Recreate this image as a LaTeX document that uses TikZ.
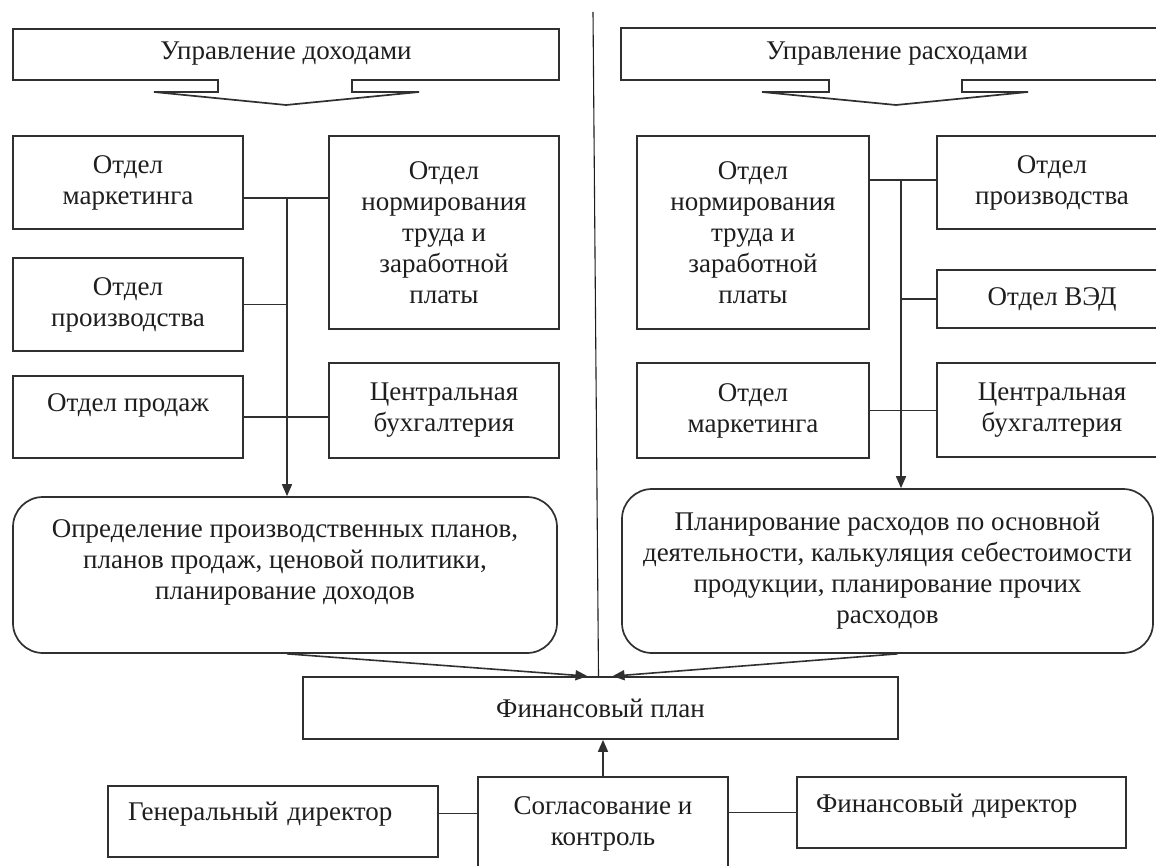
\documentclass[tikz,border=0pt]{standalone}
\usepackage{fontspec}
\setmainfont{Liberation Serif}
\usepackage{tikz}
\usetikzlibrary{arrows.meta}
\definecolor{chartInk}{HTML}{1E1E1E}
\definecolor{chartLine}{HTML}{303030}
\tikzset{
    chart/box/.style={
        rectangle, draw=chartLine, fill=white, text=chartInk,
        line width=1.7pt, align=center, inner sep=4pt,
        font=\fontsize{27}{31}\selectfont
    },
    chart/rounded/.style={
        chart/box, rounded corners=30pt
    },
    chart/caption/.style={
        text=chartInk, inner sep=2pt,
        font=\fontsize{27}{31}\selectfont
    },
    chart/banner/.style={
        draw=chartLine, fill=white, line width=1.7pt
    },
    chart/line/.style={
        draw=chartLine, line width=1.6pt
    },
    chart/arrow/.style={
        chart/line, -{Triangle[length=12pt,width=10pt]}
    },
    chart/divider/.style={
        draw=chartInk, line width=1.1pt
    }
}

\begin{document}
\begin{tikzpicture}[x=1pt, y=-1pt]
    \useasboundingbox (0,0) rectangle (1156,866);
    \fill[white] (0,0) rectangle (1156,866);
    \clip (0,0) rectangle (1156,866);

    % two headings with arrows
    \draw[chart/banner] (13,29) -- (559,29) -- (559,80) -- (352,80)
        -- (352,92) -- (419,92) -- (286,105) -- (154,92) -- (218,92)
        -- (218,80) -- (13,80) -- cycle;
    \draw[chart/banner] (621,28) -- (1172,28) -- (1172,80) -- (962,80)
        -- (962,92) -- (1028,92) -- (896,105) -- (762,92) -- (829,92)
        -- (829,80) -- (621,80) -- cycle;
    \node[chart/caption] (dohody) at (286,54) {Управление доходами};
    \node[chart/caption] (rashody) at (897,54) {Управление расходами};

    % left column
    \node[chart/box, minimum width=230pt, minimum height=93pt]
        (marketingL) at (128,182.5) {Отдел\\маркетинга};
    \node[chart/box, minimum width=230pt, minimum height=193pt]
        (normirovanieL) at (444,232.5)
        {Отдел\\нормирования\\труда и\\заработной\\платы};
    \node[chart/box, minimum width=230pt, minimum height=93pt]
        (proizvodstvoL) at (128,304.5) {Отдел\\производства};
    \node[chart/box, minimum width=230pt, minimum height=82pt,
        text height=18pt, text depth=30pt]
        (prodazhi) at (128,417) {Отдел продаж};
    \node[chart/box, minimum width=230pt, minimum height=95pt]
        (buhgalteriyaL) at (444,410.5) {Центральная\\бухгалтерия};
    \node[chart/rounded, minimum width=544pt, minimum height=156pt]
        (opredelenie) at (285,575)
        {Определение производственных планов,\\
         планов продаж, ценовой политики,\\
         планирование доходов\\~};

    % right column
    \node[chart/box, minimum width=232pt, minimum height=193pt]
        (normirovanieR) at (753,232.5)
        {Отдел\\нормирования\\труда и\\заработной\\платы};
    \node[chart/box, minimum width=232pt, minimum height=95pt]
        (marketingR) at (753,410.5) {Отдел\\маркетинга};
    \node[chart/box, minimum width=230pt, minimum height=93pt]
        (proizvodstvoR) at (1052,182.5) {Отдел\\производства};
    \node[chart/box, minimum width=230pt, minimum height=58pt]
        (ved) at (1052,299) {Отдел ВЭД};
    \node[chart/box, minimum width=230pt, minimum height=94pt]
        (buhgalteriyaR) at (1052,410) {Центральная\\бухгалтерия};
    \node[chart/rounded, minimum width=531pt, minimum height=164pt]
        (planirovanie) at (887.5,571)
        {Планирование расходов по основной\\
         деятельности, калькуляция себестоимости\\
         продукции, планирование прочих\\
         расходов};

    % bottom
    \node[chart/box, minimum width=595pt, minimum height=62pt]
        (finplan) at (600.5,708) {Финансовый план};
    \node[chart/box, minimum width=250pt, minimum height=93pt]
        (soglasovanie) at (603,823.5) {Согласование и\\контроль};
    \node[chart/box, align=left, text width=290pt, inner xsep=20pt,
        minimum height=71pt, text height=18pt, text depth=21pt]
        (gendir) at (273,821.5) {Генеральный директор};
    \node[chart/box, align=left, text width=291pt, inner xsep=19pt,
        minimum height=71pt, text height=18pt, text depth=18pt]
        (findir) at (961.5,812.5) {Финансовый директор};

    \coordinate (uzelDoh) at (287,198);
    \coordinate (uzelRas) at (901,180);
    \coordinate (razdel) at (593,12);

    \draw[chart/divider] (razdel) -- ([xshift=-2pt]finplan.north);

    \draw[chart/line] (marketingL.east |- uzelDoh) -- (normirovanieL.west |- uzelDoh);
    \draw[chart/line] (proizvodstvoL.east) -- (proizvodstvoL.east -| uzelDoh);
    \draw[chart/line] (prodazhi.east) -- (buhgalteriyaL.west |- prodazhi.east);
    \draw[chart/arrow] (uzelDoh) -- (uzelDoh |- opredelenie.north);

    \draw[chart/line] (normirovanieR.east |- uzelRas) -- (proizvodstvoR.west |- uzelRas);
    \draw[chart/line] (ved.west) -- (ved.west -| uzelRas);
    \draw[chart/line] (marketingR.east) -- (buhgalteriyaR.west |- marketingR.east);
    \draw[chart/arrow] (uzelRas) -- (uzelRas |- planirovanie.north);

    \draw[chart/arrow] ([xshift=2pt]opredelenie.south) -- ([xshift=-13pt]finplan.north);
    \draw[chart/arrow] ([xshift=10pt]planirovanie.south) -- ([xshift=12pt]finplan.north);
    \draw[chart/arrow] (soglasovanie.north) -- (soglasovanie.north |- finplan.south);
    \draw[chart/line] ([yshift=8pt]gendir.east) -- ([yshift=8pt]gendir.east -| soglasovanie.west);
    \draw[chart/line] (soglasovanie.east |- findir.west) -- (findir.west);
\end{tikzpicture}
\end{document}
